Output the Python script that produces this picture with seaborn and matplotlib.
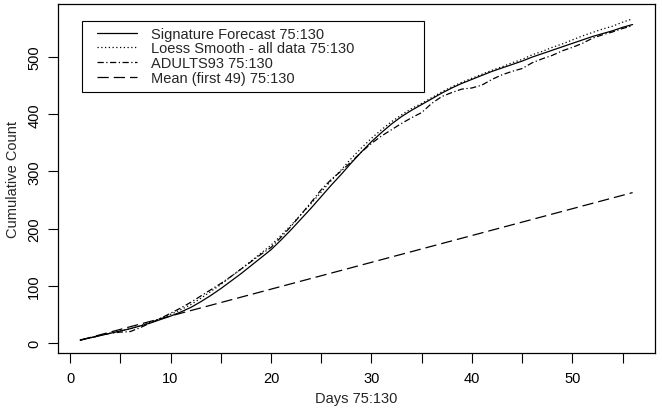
import matplotlib
matplotlib.use("Agg")
import matplotlib.pyplot as plt
from matplotlib.patches import Rectangle
import seaborn as sns
import pandas as pd

sns.set_theme(style="ticks")
plt.rcParams['font.family'] = ['Liberation Sans', 'DejaVu Sans']

# valores (dias 1..56)
dias = list(range(1, 57))
assinatura = [5, 9, 13, 17, 21, 25, 30, 35, 41, 47, 54, 62, 72, 83, 95, 108, 121, 135, 149, 163,
              180, 198, 217, 236, 256, 276, 295, 315, 334, 352, 368, 383, 396, 407, 417, 427, 437, 446,
              454, 461, 468, 475, 481, 487, 493, 500, 506, 512, 518, 524, 530, 536, 541, 546, 552, 557]
loess = [5, 9, 13, 17, 21, 25, 30, 36, 43, 50, 58, 67, 78, 90, 102, 116, 129, 143, 157, 171,
         188, 206, 225, 244, 264, 284, 303, 323, 341, 358, 373, 387, 399, 410, 419, 429, 439, 448,
         456, 463, 470, 477, 483, 490, 496, 504, 510, 517, 523, 530, 537, 543, 549, 554, 561, 567]
adults93 = [5, 9, 13, 17, 19, 20, 27, 35, 43, 52, 61, 71, 82, 93, 104, 116, 129, 142, 155, 167,
            185, 204, 225, 246, 268, 286, 301, 317, 334, 349, 362, 373, 384, 394, 403, 419, 431, 438,
            444, 446, 451, 461, 469, 475, 480, 490, 497, 503, 511, 517, 524, 533, 539, 544, 550, 555]
media_dias = [1, 56]
media = [5, 263]

nomes = ["Signature Forecast 75:130", "Loess Smooth - all data 75:130",
         "ADULTS93 75:130", "Mean (first 49) 75:130"]

df = pd.concat([
    pd.DataFrame({'dia': dias, 'contagem': assinatura, 'serie': nomes[0]}),
    pd.DataFrame({'dia': dias, 'contagem': loess, 'serie': nomes[1]}),
    pd.DataFrame({'dia': dias, 'contagem': adults93, 'serie': nomes[2]}),
    pd.DataFrame({'dia': media_dias, 'contagem': media, 'serie': nomes[3]}),
])

fig = plt.figure(figsize=(6.62, 4.10), dpi=100)
ax = fig.add_axes([0.0876, 0.1366, 0.9014, 0.8514])

tracos = {nomes[0]: "", nomes[1]: (1, 2), nomes[2]: (5, 2, 1, 2), nomes[3]: (9, 4)}
sns.lineplot(data=df, x='dia', y='contagem', style='serie', dashes=tracos,
             color='black', linewidth=0.9, ax=ax, legend=True)

ax.set_xlim(-1.2, 58.2)
ax.set_ylim(-17.5, 593)
ax.set_xticks(range(0, 60, 5))
ax.set_xticklabels([str(v) if v % 10 == 0 else '' for v in range(0, 60, 5)])
ax.set_yticks(range(0, 600, 100))
for lbl in ax.get_yticklabels():
    lbl.set_rotation(90)
    lbl.set_va('center')
ax.tick_params(axis='both', direction='out', length=7, width=0.8, labelsize=10.5,
               colors='black')
ax.tick_params(axis='x', pad=6)
ax.tick_params(axis='y', pad=5)
for s in ax.spines.values():
    s.set_visible(True)
    s.set_color('black')
    s.set_linewidth(0.9)

ax.set_xlabel("Days 75:130", fontsize=10.5, labelpad=4.5)
ax.set_ylabel("Cumulative Count", fontsize=10.5, labelpad=5)

# caixa da legenda
ax.add_patch(Rectangle((0.040, 0.748), 0.573, 0.203, transform=ax.transAxes,
                       fill=False, edgecolor='black', linewidth=0.8, zorder=5))
handles, labels = ax.get_legend_handles_labels()
leg = ax.legend(handles, labels, loc='upper left', bbox_to_anchor=(0.066, 0.935),
                fontsize=10.5, frameon=False, borderaxespad=0, borderpad=0,
                handlelength=2.7, handletextpad=1.0, labelspacing=0.05)

fig.savefig('out.png', dpi=100)
